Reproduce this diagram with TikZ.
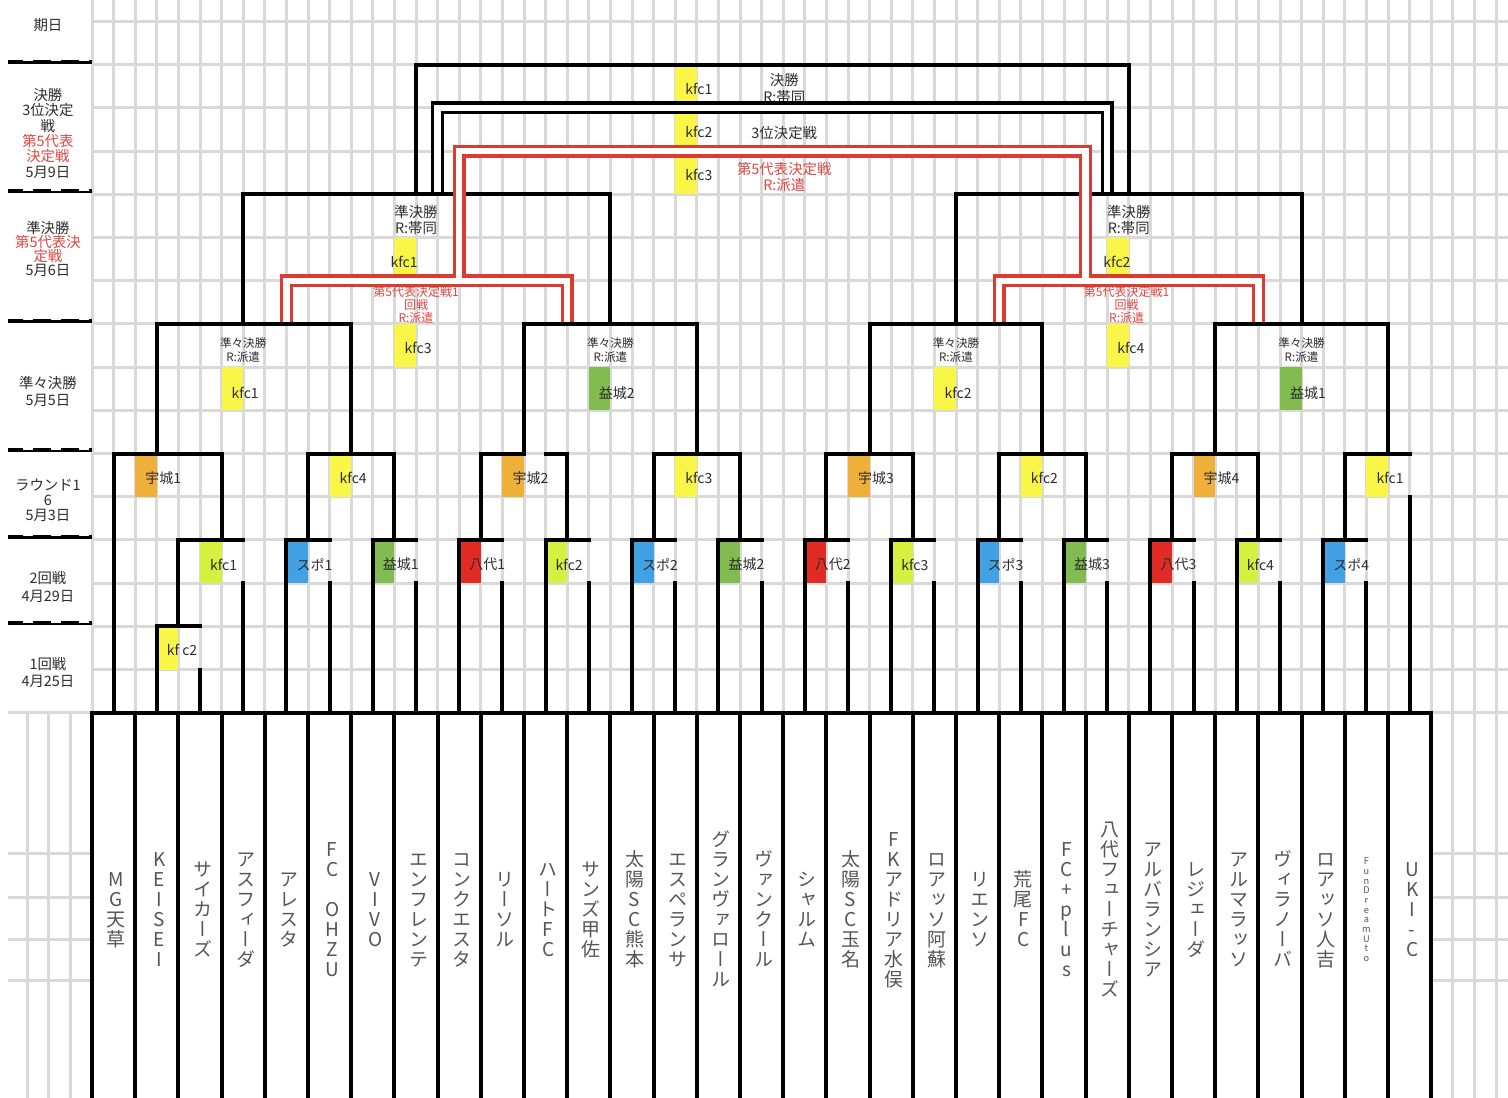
\documentclass[tikz,border=0pt]{standalone}
\usepackage{fontspec}
\setmainfont{Noto Sans CJK JP}
\newfontfamily\tatefont[RawFeature=+vert]{Noto Sans CJK JP}
\definecolor{gridgray}{RGB}{217,217,217}
\definecolor{ink}{RGB}{45,45,45}
\definecolor{namegray}{RGB}{85,85,85}
\definecolor{redline}{RGB}{218,60,50}
\definecolor{redtext}{RGB}{222,70,66}
\definecolor{kfcyellow}{RGB}{250,246,72}
\definecolor{kfclime}{RGB}{214,240,64}
\definecolor{ujoorange}{RGB}{238,176,58}
\definecolor{spoblue}{RGB}{66,160,228}
\definecolor{mashiki}{RGB}{130,188,80}
\definecolor{yatsushiro}{RGB}{224,44,36}

% vertical (tategaki) stack of characters
\newcommand\tate[1]{\vbox{\offinterlineskip\tatestep#1\relax}}
\newcommand\tatestep[1]{\ifx\relax#1\else\hbox to 1.6em{\hss\vrule height .86em depth .19em width 0pt\relax#1\hss}\expandafter\tatestep\fi}
\newcommand\tatex[1]{\expandafter\tate\expandafter{#1}}

\tikzset{
  gridline/.style={gridgray, line width=1.5pt},
  bline/.style={black, line width=2pt, line cap=rect},
  dline/.style={line width=1.65pt, double=white, double distance=3.2pt},
  venue/.style={font=\fontsize{7}{7}\selectfont, text=ink, inner sep=0pt, anchor=west},
  note/.style={font=\fontsize{7.2}{8.2}\selectfont, text=ink, align=center, inner sep=0pt},
  qnote/.style={font=\fontsize{5.8}{6.9}\selectfont, text=ink, align=center, inner sep=0pt},
  rnote/.style={font=\fontsize{6}{6.4}\selectfont, text=redtext, align=center, inner sep=0pt},
  daylabel/.style={font=\fontsize{7.2}{#1}\selectfont, text=ink, align=center, inner sep=0pt},
  daylabel/.default=8pt,
  teamname/.style={font=\tatefont\fontsize{9.5}{9.5}\selectfont, text=namegray, inner sep=0pt},
}

\begin{document}
\begin{tikzpicture}[x=10.8pt, y=-21.6pt]
\useasboundingbox (-4.2593,-0.4977) rectangle (65.5556,24.8958);
\fill[white] (-4.2593,-0.4977) rectangle (65.5556,24.8958);

% grid
\foreach \j in {0,...,65} \draw[gridline] (\j,-0.6) -- (\j,25);
\foreach \j in {-1,-2,-3} \draw[gridline] (\j,16) -- (\j,25);
\foreach \k in {0,...,15} \draw[gridline] (0,\k) -- (65.6,\k);
\foreach \k in {16,19.25,20.27,21.26,22.19} \draw[gridline] (-3.87,\k) -- (65.6,\k);

% day column
\foreach \v in {1,4,7,10,12,14} {
  \draw[line width=2pt] (-3.87,\v-0.07) -- (0,\v-0.07);
  \draw[white, line width=0.7pt, dash pattern=on 5pt off 9pt] (-3.2,\v-0.1) -- (0,\v-0.1);
}
\node[daylabel] (day0) at (-2.04,0.08) {期日};
\node[daylabel=7.7pt] (day1) at (-2.04,2.59) {決勝\\3位決定\\戦\\\textcolor{redtext}{第5代表}\\\textcolor{redtext}{決定戦}\\5月9日};
\node[daylabel=7pt] (day2) at (-2.04,5.27) {準決勝\\\textcolor{redtext}{第5代表決}\\\textcolor{redtext}{定戦}\\5月6日};
\node[daylabel=8.5pt] (day3) at (-2.04,8.56) {準々決勝\\5月5日};
\node[daylabel=7.5pt] (day4) at (-2.04,11.08) {ラウンド1\\6\\5月3日};
\node[daylabel=9pt] (day5) at (-2.04,13.08) {2回戦\\4月29日};
\node[daylabel=8.3pt] (day6) at (-2.04,15.07) {1回戦\\4月25日};

% venues
\foreach \v/\txt in {1/kfc1, 2/kfc2, 3/kfc3} {
  \fill[kfcyellow] (27,\v) rectangle (28,\v+1);
  \node[venue] (fv\v) at (27.45,\v+0.56) {\txt};
}
\fill[kfcyellow] (14,5) rectangle (15,6) (47,5) rectangle (48,6) (14,7) rectangle (15,8) (47,7) rectangle (48,8);
\node[venue, anchor=center] (sv1) at (14.45,5.56) {kfc1};
\node[venue, anchor=center] (sv2) at (47.45,5.56) {kfc2};
\node[venue] (pv1) at (14.45,7.56) {kfc3};
\node[venue] (pv2) at (47.45,7.56) {kfc4};
\foreach \xu/\col/\txt [count=\i] in {7/kfcyellow/kfc1, 24/mashiki/益城2, 40/kfcyellow/kfc2, 56/mashiki/益城1} {
  \fill[fill=\col] (\xu-1,8) rectangle (\xu,9);
  \node[venue] (qv\i) at (\xu-0.55,8.6) {\txt};
}
\foreach \xu/\col/\txt [count=\i] in {3/ujoorange/宇城1, 12/kfcyellow/kfc4, 20/ujoorange/宇城2, 28/kfcyellow/kfc3, 36/ujoorange/宇城3, 44/kfcyellow/kfc2, 52/ujoorange/宇城4, 60/kfcyellow/kfc1} {
  \fill[fill=\col] (\xu-1,10) rectangle (\xu,11);
  \node[venue] (rv\i) at (\xu-0.55,10.57) {\txt};
}
\foreach \xu/\col/\txt [count=\i] in {6/kfclime/kfc1, 10/spoblue/スポ1, 14/mashiki/益城1, 18/yatsushiro/八代1, 22/kfclime/kfc2, 26/spoblue/スポ2, 30/mashiki/益城2, 34/yatsushiro/八代2, 38/kfclime/kfc3, 42/spoblue/スポ3, 46/mashiki/益城3, 50/yatsushiro/八代3, 54/kfclime/kfc4, 58/spoblue/スポ4} {
  \fill[fill=\col] (\xu-1,12) rectangle (\xu,13);
  \node[venue] (tv\i) at (\xu-0.55,12.57) {\txt};
}
\fill[kfcyellow] (3,14) rectangle (4,15);
\node[venue] (ov1) at (3.45,14.55) {kf c2};

% notes
\node[note] (finnote) at (32.05,1.55) {決勝\\R:帯同};
\node[note] (thirdnote) at (32.05,2.58) {3位決定戦};
\node[note, text=redtext] (fifthnote) at (32.05,3.6) {第5代表決定戦\\R:派遣};
\node[note] (sfnote1) at (15,4.6) {準決勝\\R:帯同};
\node[note] (sfnote2) at (48,4.6) {準決勝\\R:帯同};
\node[rnote] (pnote1) at (15,6.56) {第5代表決定戦1\\回戦\\R:派遣};
\node[rnote] (pnote2) at (47.9,6.56) {第5代表決定戦1\\回戦\\R:派遣};
\foreach \xu [count=\i] in {7,24,40,56} \node[qnote] (qfnote\i) at (\xu,7.6) {準々決勝\\R:派遣};

% team lines
\draw[bline] (1,16) -- (1,10);
\draw[bline] (3,16) -- (3,14);
\draw[bline] (5,16) -- (5,15);
\draw[bline] (7,16) -- (7,13);
\foreach \xu in {9,13,...,57} {
  \draw[bline] (\xu,16) -- (\xu,12);
  \draw[bline] (\xu+2,16) -- (\xu+2,13);
}
\draw[bline] (61,16) -- (61,11);

% 1回戦, 2回戦
\draw[bline] (3,14) -- (5,14) (4,14) -- (4,12);
\draw[bline] (4,12) -- (7,12) (6,12) -- (6,10);
\foreach \xu in {9,13,...,57} \draw[bline] (\xu,12) -- (\xu+2,12) (\xu+1,12) -- (\xu+1,10);

% ラウンド16
\foreach \l/\r/\m in {1/6/3, 10/14/12, 26/30/28, 34/38/36, 42/46/44, 50/54/52, 58/61/60}
  \draw[bline] (\l,10) -- (\r,10) (\m,10) -- (\m,7);
\draw[bline] (18,10) -- (20,10) (21,10) -- (22,10) (20,10) -- (20,7);

% 準々決勝, 準決勝, 決勝
\foreach \l/\r/\m in {3/12/7, 20/28/24, 36/44/40, 52/60/56}
  \draw[bline] (\l,7) -- (\r,7) (\m,7) -- (\m,4);
\draw[bline] (7,4) -- (24,4) (40,4) -- (56,4);
\draw[bline] (15,4) -- (15,1) -- (48,1) -- (48,4);

% 3位決定戦 and 第5代表決定戦
\draw[dline, black] (16,3.954) -- (16,2) -- (47,2) -- (47,3.954);
\draw[dline, redline] (9,6.954) -- (9,6) -- (22,6) -- (22,6.954);
\draw[dline, redline] (42,6.954) -- (42,6) -- (54,6) -- (54,6.954);
\draw[dline, redline] (17,5.926) -- (17,3) -- (46,3) -- (46,5.926);

% team boxes
\fill[white] (0,16) rectangle (62,25);
\foreach \j in {0,2,...,62} \draw[bline] (\j,16) -- (\j,25);
\draw[bline] (0,16) -- (62,16);
\foreach \name [count=\i from 0] in {MG天草, KEISEI, サイカーズ, アスフィーダ, アレスタ, FC~OHZU, VIVO, エンフレンテ, コンクエスタ, リーソル, ハートFC, サンズ甲佐, 太陽SC熊本, エスペランサ, グランヴァロール, ヴァンクール, シャルム, 太陽SC玉名, FKアドリア水俣, ロアッソ阿蘇, リエンソ, 荒尾FC, FC+plus, 八代フューチャーズ, アルバランシア, レジェーダ, アルマラッソ, ヴィラノーバ, ロアッソ人吉}
  \node[teamname] (team\i) at (2*\i+1.12,20.57) {\tatex{\name}};
\node[teamname, font=\tatefont\fontsize{4.6}{4.6}\selectfont] (team29) at (59,20.57) {\tate{FunDreamUto}};
\node[teamname] (team30) at (61.12,20.57) {\tate{UKI-C}};
\end{tikzpicture}
\end{document}
